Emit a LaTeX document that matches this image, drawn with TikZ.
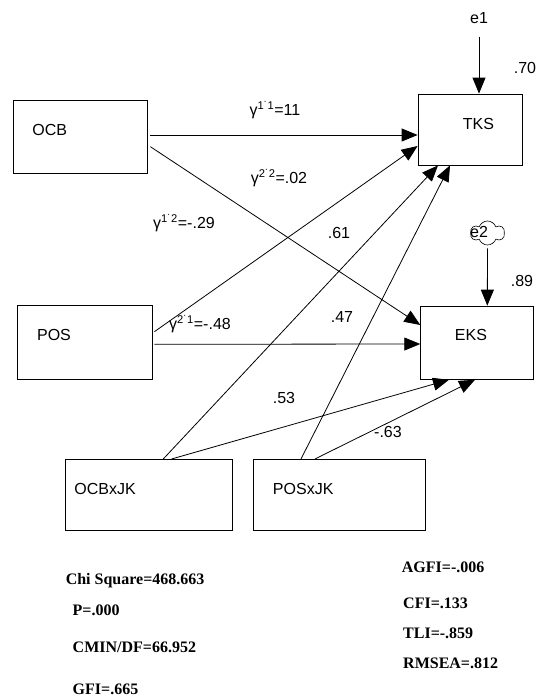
\documentclass[tikz,border=0pt]{standalone}
\usepackage{fontspec}
\setmainfont{Liberation Sans}
\newfontfamily\statfont{Liberation Serif}
\usetikzlibrary{arrows.meta,shapes.symbols}

\begin{document}
\begin{tikzpicture}[
        x=1pt, y=-1pt,
        font=\fontsize{16}{19}\selectfont,
        box/.style={
            draw,
            line width=0.8pt,
            inner sep=0pt
        },
        boxname/.style={
            inner sep=0pt
        },
        arrow/.style={
            -{Triangle[length=16pt,width=13pt]},
            line width=0.8pt
        },
        lbl/.style={
            anchor=base,
            inner sep=0pt
        },
        stat/.style={
            anchor=base west,
            inner sep=0pt,
            font=\statfont\bfseries\fontsize{16}{19}\selectfont
        }
    ]
        \useasboundingbox (0,0) rectangle (536,699);

        % variables
        \node[box, minimum width=134pt, minimum height=73pt] (ocb) at (80.5,137) {};
        \node[box, minimum width=104pt, minimum height=71pt] (tks) at (470,129.5) {};
        \node[box, minimum width=134.6pt, minimum height=73.3pt] (pos) at (85,342.3) {};
        \node[box, minimum width=112.6pt, minimum height=73.3pt] (eks) at (477,342.7) {};
        \node[box, minimum width=166.6pt, minimum height=70.7pt] (ocbjk) at (149,494.7) {};
        \node[box, minimum width=171.6pt, minimum height=70.7pt] (posjk) at (339.2,494.7) {};

        \node[boxname] (ocbtext) at ([xshift=-30.8pt,yshift=7pt]ocb.center) {OCB};
        \node[boxname] (tkstext) at ([xshift=8.5pt,yshift=5.5pt]tks.center) {TKS};
        \node[boxname] (postext) at ([xshift=-31pt,yshift=7.3pt]pos.center) {POS};
        \node[boxname] (ekstext) at ([xshift=-6pt,yshift=7.7pt]eks.center) {EKS};
        \node[boxname] (ocbjktext) at ([xshift=-44pt,yshift=5.4pt]ocbjk.center) {OCBxJK};
        \node[boxname] (posjktext) at ([xshift=-36pt,yshift=5.4pt]posjk.center) {POSxJK};

        % errors
        \node[lbl] (e1) at (479,23.7) {e1};
        \node[cloud, draw, cloud puffs=6, cloud puff arc=140, aspect=1.4,
              minimum width=34pt, minimum height=24pt, inner sep=0pt,
              line width=0.6pt] (e2cloud) at (487.5,233) {};
        \node[lbl] (e2) at (479,237.4) {e2};

        \draw[arrow] ([yshift=-13pt]e1.base) -- ([xshift=9pt]tks.north);
        \draw[arrow] ([yshift=-3pt]e2cloud.south) -- ([xshift=10.3pt]eks.north);

        % paths
        \draw[arrow] ([xshift=2.5pt,yshift=2pt]ocb.east) -- ([yshift=-5.5pt]tks.west);
        \draw[arrow] ([xshift=2.5pt,yshift=-9.7pt]ocb.east) -- ([yshift=17.7pt]eks.west);
        \draw[arrow] ([xshift=1.7pt,yshift=10.6pt]pos.east) -- ([yshift=-16.5pt]tks.west);
        \draw[arrow] ([xshift=1.7pt,yshift=-2pt]pos.east) -- ([yshift=-1.3pt]eks.west);
        \draw[arrow] ([xshift=14.3pt]ocbjk.north) -- ([xshift=-32pt]tks.south);
        \draw[arrow] ([xshift=-38.2pt]posjk.north) -- ([xshift=-20pt]tks.south);
        \draw[arrow] ([xshift=22.7pt]ocbjk.north) -- ([xshift=-28pt]eks.south);
        \draw[arrow] ([xshift=-24.2pt]posjk.north) -- ([xshift=-2pt]eks.south);

        % coefficients
        \node[lbl] (g11) at (275,115.5) {γ\textsuperscript{1˙1}=11};
        \node[lbl] (g22) at (279,183.7) {γ\textsuperscript{2˙2}=.02};
        \node[lbl] (g12) at (184,228.4) {γ\textsuperscript{1˙2}=-.29};
        \node[lbl] (c61) at (339,238.7) {.61};
        \node[lbl] (g21) at (200,329.7) {γ\textsuperscript{2˙1}=-.48};
        \node[lbl] (c47) at (342,322.7) {.47};
        \node[lbl] (c53) at (284,403) {.53};
        \node[lbl] (c63) at (388,437.4) {-.63};
        \node[lbl] (r70) at (525,73.7) {.70};
        \node[lbl] (r89) at (522,286.7) {.89};

        % fit indices
        \node[stat] (chisq) at (65.6,584.8) {Chi Square=468.663};
        \node[stat] (pval) at (72.5,615.3) {P=.000};
        \node[stat] (cmin) at (72.5,652) {CMIN/DF=66.952};
        \node[stat] (gfi) at (72.5,694.3) {GFI=.665};
        \node[stat] (agfi) at (401.7,572) {AGFI=-.006};
        \node[stat] (cfi) at (403,608.6) {CFI=.133};
        \node[stat] (tli) at (403,638.6) {TLI=-.859};
        \node[stat] (rmsea) at (403,668.6) {RMSEA=.812};

    \end{tikzpicture}
\end{document}
